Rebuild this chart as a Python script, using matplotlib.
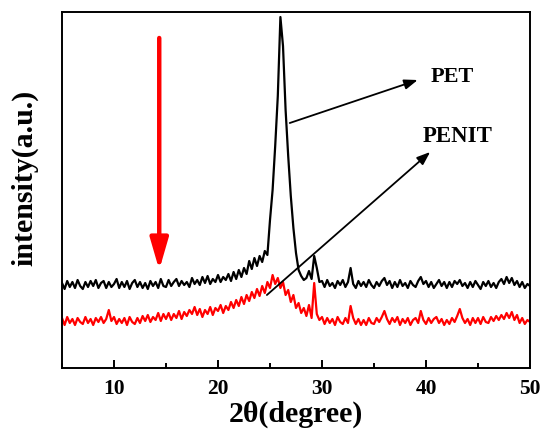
import numpy as np
import matplotlib
matplotlib.use("Agg")
import matplotlib.pyplot as plt
from matplotlib.ticker import MultipleLocator

plt.rcParams['font.family'] = ['Liberation Serif', 'DejaVu Serif']
plt.rcParams['font.weight'] = 'bold'

# 2theta sampling grid (degrees), 0.25 step from 5 to 50
two_theta = np.arange(5.0, 50.001, 0.25)

# PET curve (black), 4 values per degree
pet = [
    85, 79, 87, 81,  86, 80, 88, 82,  79, 86, 81, 87,  82, 88, 80, 85,
    87, 80, 86, 81,  84, 89, 80, 86,  81, 87, 79, 85,  88, 81, 86, 80,
    85, 79, 87, 82,  86, 80, 89, 82,  81, 88, 82, 86,  89, 82, 87, 83,
    86, 81, 90, 84,  88, 83, 91, 85,  92, 84, 89, 86,  93, 86, 91, 88,
    94, 87, 96, 89,  98, 91, 100, 94,  107, 99, 110, 102,  112, 106, 117, 113,
    148, 178, 222, 272,  351, 322, 258, 212,  172, 140, 115, 98,  92, 88, 90, 97,
    89, 112, 100, 86,  87, 81, 88, 82,  85, 80, 87, 83,  88, 81, 86, 100,
    84, 80, 87, 82,  86, 81, 88, 83,  80, 86, 82, 87,  90, 83, 87, 80,
    86, 81, 88, 82,  85, 80, 87, 83,  81, 87, 91, 84,  87, 81, 86, 80,
    84, 88, 82, 86,  80, 86, 81, 87,  84, 88, 82, 85,  80, 86, 81, 87,
    83, 79, 86, 82,  87, 81, 85, 80,  86, 89, 84, 91,  85, 90, 83, 87,
    81, 86, 80, 84,  82,
]

# PENIT curve (red)
penit = [
    50, 43, 51, 45,  49, 43, 50, 46,  44, 51, 45, 49,  43, 50, 46, 51,
    45, 49, 58, 47,  51, 44, 49, 45,  50, 43, 51, 46,  44, 50, 45, 52,
    47, 53, 46, 51,  48, 55, 47, 54,  49, 55, 48, 54,  50, 57, 49, 56,
    52, 58, 54, 61,  53, 59, 51, 58,  54, 61, 53, 60,  57, 63, 55, 62,
    58, 66, 60, 68,  62, 71, 64, 73,  67, 76, 70, 79,  72, 82, 75, 86,
    80, 93, 84, 90,  80, 86, 73, 78,  66, 73, 60, 65,  55, 60, 52, 63,
    50, 85, 54, 48,  51, 44, 50, 45,  49, 43, 51, 46,  44, 50, 45, 62,
    50, 44, 49, 43,  48, 43, 50, 45,  44, 50, 46, 51,  57, 49, 44, 50,
    46, 51, 43, 49,  45, 50, 43, 48,  50, 45, 57, 48,  44, 50, 45, 49,
    51, 45, 49, 43,  48, 44, 50, 46,  52, 59, 50, 45,  49, 43, 50, 45,
    50, 44, 51, 46,  45, 51, 47, 52,  48, 53, 49, 55,  50, 56, 48, 53,
    45, 50, 44, 48,  46,
]

fig = plt.figure(figsize=(5.43, 4.36), dpi=100)
ax = fig.add_axes([62/543, 68/436, 468/543, 356/436])

ax.plot(two_theta, pet, color='black', lw=1.6)
ax.plot(two_theta, penit, color='red', lw=1.6)

ax.set_xlim(5, 50)
ax.set_ylim(0, 356)

# red vertical arrow
ax.annotate('', xy=(14.35, 98), xytext=(14.35, 330),
            arrowprops=dict(arrowstyle='-|>,head_length=1.9,head_width=0.55',
                            color='red', lw=3.2, mutation_scale=10,
                            shrinkA=0, shrinkB=0))

# labels with arrows
ax.annotate('', xy=(39.2, 288), xytext=(26.9, 245),
            arrowprops=dict(arrowstyle='-|>,head_length=0.8,head_width=0.3',
                            color='black', lw=1.3, mutation_scale=10,
                            shrinkA=0, shrinkB=0))
ax.text(40.4, 291, 'PET', fontsize=16, fontweight='bold', va='center', ha='left')

ax.annotate('', xy=(40.4, 216), xytext=(24.7, 73),
            arrowprops=dict(arrowstyle='-|>,head_length=0.8,head_width=0.3',
                            color='black', lw=1.3, mutation_scale=10,
                            shrinkA=0, shrinkB=0))
ax.text(39.7, 232, 'PENIT', fontsize=16.5, fontweight='bold', va='center', ha='left')

ax.xaxis.set_major_locator(MultipleLocator(10))
ax.xaxis.set_minor_locator(MultipleLocator(5))
ax.tick_params(axis='x', which='major', direction='in', length=6, width=1.4,
               labelsize=15.5, pad=8)
ax.tick_params(axis='x', which='minor', direction='in', length=3.5, width=1.4)
ax.set_yticks([])
for lbl in ax.get_xticklabels():
    lbl.set_fontweight('bold')
for s in ax.spines.values():
    s.set_linewidth(1.4)

ax.set_xlabel('2θ(degree)', fontsize=21.5, fontweight='bold', labelpad=1)
ax.set_ylabel('intensity(a.u.)', fontsize=21.5, fontweight='bold')
ax.yaxis.set_label_coords(-0.05, 0.534)

fig.savefig('out.png', dpi=100)
